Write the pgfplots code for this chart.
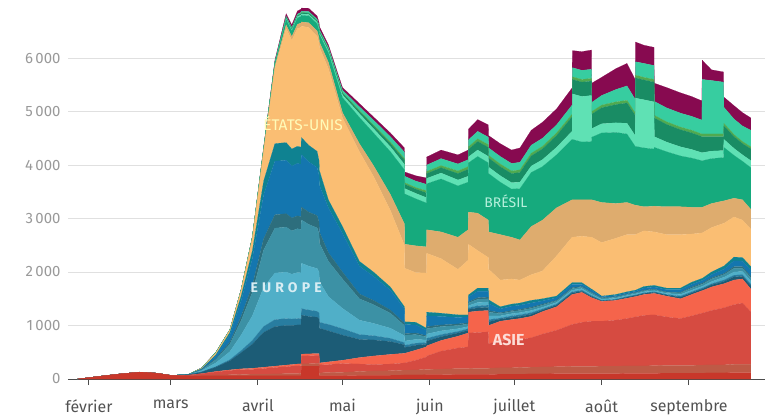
\documentclass[border=0pt]{standalone}
\usepackage{pgfplots}
\pgfplotsset{compat=1.18}
\usepackage{pgfplotstable}
\usepackage{fontspec}
\setmainfont{Fira Sans}
\newfontfamily\spaced[LetterSpace=30]{Fira Sans}

% Asie
\definecolor{cA1}{HTML}{C8372A}
\definecolor{cA2}{HTML}{BE5A46}
\definecolor{cA3}{HTML}{D64B41}
\definecolor{cA4}{HTML}{F5644B}
% Europe
\definecolor{cE1}{HTML}{1C5C76}
\definecolor{cE2}{HTML}{287DA0}
\definecolor{cE3}{HTML}{50AFC8}
\definecolor{cE4}{HTML}{3C91A5}
\definecolor{cE5}{HTML}{2D6E7D}
\definecolor{cE6}{HTML}{1476AF}
\definecolor{cE7}{HTML}{0F8291}
% Amériques
\definecolor{cUS}{HTML}{FABE73}
\definecolor{cTN}{HTML}{DEAC6E}
\definecolor{cG1}{HTML}{16AA7D}
\definecolor{cG2}{HTML}{5FE1B4}
\definecolor{cG3}{HTML}{198C64}
\definecolor{cG4}{HTML}{50AA50}
\definecolor{cG5}{HTML}{37CDA0}
\definecolor{cMG}{HTML}{870A50}

% jours depuis le 1er fevrier, deces quotidiens (moyenne 7 jours) par couche
\pgfplotstableread{
d     a1  a2  a3   a4  e1  e2  e3  e4  e5  e6   e7  us   tn  g1   g2  g3  g4 g5   mg
-4    0   0   0    0   0   0   0   0   0   0    0   0    0   0    0   0   0  0    0
2     40  0   0    0   0   0   0   0   0   0    0   0    0   0    0   0   0  0    0
10    90  0   0    0   0   0   0   0   0   0    0   0    0   0    0   0   0  0    0
18    130 0   0    0   0   0   0   0   0   0    0   0    0   0    0   0   0  0    0
24    110 0   0    0   0   0   0   0   0   0    0   0    0   0    0   0   0  0    0
29    70  0   0    0   0   0   0   0   0   0    0   0    0   0    0   0   0  0    0
35    60  0   10   0   10  0   0   0   0   0    0   0    0   0    0   0   0  0    0
40    60  10  30   0   30  5   20  15  5   10   5   10   0   5    0   0   0  0    5
45    60  15  55   10  80  10  70  60  20  50   20  30   5   10   0   0   0  0    5
50    60  20  80   10  170 20  150 140 40  130  50  40   5   5    0   0   0  0    5
54    60  25  90   15  300 40  290 270 80  290  90  100  10  10   0   0   0  0    10
58    60  30  90   20  450 70  460 440 130 500  150 220  20  15   5   0   0  0    10
62    60  30  105  25  650 110 730 700 210 820  260 550  30  30   5   0   0  5    20
66    60  35  120  25  740 130 870 840 250 1000 330 1400 50  50   10  10  0  10   30
70    60  40  130  30  740 130 870 840 250 1000 330 2130 70  100  20  15  5  20   50
72    60  40  140  30  730 120 840 810 240 970  320 2030 70  105  20  15  5  25   50
74    60  40  145  35  730 120 860 820 240 980  320 2200 80  120  25  15  5  25   60
75.3  60  45  145  35  730 120 850 810 240 980  320 2240 80  125  25  20  5  25   60
75.4  240 45  145  35  730 120 850 810 240 980  320 2080 80  125  25  20  5  25   60
78    240 45  150  35  700 120 820 780 230 940  310 2200 90  130  25  20  5  30   60
81    240 50  150  35  680 110 800 760 230 900  300 2150 100 135  30  20  5  30   60
81.7  240 50  150  35  650 110 760 720 210 870  280 2200 100 140  30  20  10 30   60
81.8  65  50  150  35  650 110 760 720 210 870  280 2300 100 140  30  20  10 30   60
85    65  55  150  50  580 120 520 660 160 840  150 2450 120 180  35  20  10 35   50
90    65  60  165  60  470 120 380 550 130 720  130 2030 100 280  50  30  10 50   50
96    70  70  140  120 340 90  270 400 90  520  90  2050 150 490  70  40  20 70   60
101   70  80  120  160 300 80  230 350 80  450  80  1790 200 610  80  50  20 90   60
107   70  85  125  180 240 60  190 280 60  370  60  1430 300 800  90  60  30 100  70
112   75  90  135  180 160 40  130 190 40  270  40  1150 400 1010 100 80  30 120  80
112.1 75  90  135  180 110 40  80  110 30  170  50  1000 450 940  100 80  30 120  80
116   75  95  180  190 90  40  70  90  30  150  50  930  500 880  100 80  30 120  100
119.8 80  100 230  190 50  30  50  60  20  100  40  1030 490 820  100 90  40 120  120
119.9 80  100 250  190 90  50  80  100 40  200  70  1100 440 860  100 90  40 120  150
125   80  105 335  200 70  40  70  80  30  160  60  1020 500 990  110 100 40 130  160
131   85  110 385  220 60  30  50  60  30  120  50  850  600 960  110 120 50 130  170
134.6 85  110 405  260 50  30  40  50  20  110  40  1020 570 890  110 130 50 130  180
134.7 85  110 665  390 50  30  40  50  20  90   40  950  600 920  110 140 50 130  200
138   85  115 670  400 60  40  60  60  30  120  60  700  700 1060 120 160 50 140  220
141.8 85  115 680  400 60  40  60  60  30  110  60  570  700 1070 120 170 50 140  230
141.9 85  115 460  340 70  40  70  70  30  130  70  570  700 1090 120 170 50 140  230
146   90  120 510  360 40  20  40  40  20  70   40  500  850 980  120 170 50 140  240
150   90  120 520  380 40  30  40  40  20  80   40  470  780 900  120 170 50 140  250
153   90  125 525  390 40  30  40  40  20  80   40  430  750 960  120 180 50 140  270
157   95  125 550  400 40  30  40  40  20  80   50  480  900 1010 120 190 50 150  280
161   95  130 615  420 30  20  30  40  20  60   40  520  950 1000 130 200 50 150  300
166   100 130 680  440 30  20  30  30  10  50   30  750  900 990  140 220 50 150  300
171.5 100 135 785  560 30  20  30  30  20  60   30  850  700 1130 150 270 50 170  320
171.6 100 135 785  560 30  20  30  30  20  60   30  850  700 1130 850 270 50 170  320
175   100 135 825  560 20  20  30  30  10  40   30  870  680 1080 850 270 50 170  350
178.4 100 135 845  440 20  20  20  30  10  40   20  970  700 1090 860 270 50 170  360
178.5 100 135 845  440 20  20  20  30  10  40   20  970  700 1170 160 270 50 170  360
182   100 140 840  370 10  10  20  20  10  20   10  1000 750 1300 170 300 50 180  340
187   100 140 860  370 10  10  20  20  10  20   20  1050 650 1330 180 340 50 230  390
191   105 140 885  380 20  10  20  20  10  20   20  1070 600 1280 200 380 50 270  420
193.9 105 140 915  380 20  10  20  20  10  20   20  1040 550 1100 200 380 50 250  370
194   105 140 915  380 20  10  20  20  10  20   20  1040 550 1100 900 380 50 250  370
197   105 140 945  390 20  10  20  20  10  40   30  1040 450 1100 900 370 50 260  340
200.6 105 145 950  400 20  10  20  20  10  40   30  1000 480 1070 880 370 50 260  340
200.7 105 145 950  400 20  10  20  20  10  40   30  1000 480 1100 200 350 50 260  340
205   110 145 905  390 20  10  20  20  10  40   30  1000 520 1030 180 330 50 260  380
210   110 145 875  370 30  20  30  30  10  50   30  1000 520 950  170 320 50 260  380
214   110 145 925  400 30  20  30  40  20  50   40  900  500 920  160 310 50 260  370
217.6 110 150 970  420 30  20  30  40  20  50   40  850  480 870  150 300 50 260  360
217.7 110 150 970  420 30  20  30  40  20  50   40  850  480 870  150 300 50 1020 360
221   115 150 1015 440 40  20  40  50  20  60   50  830  450 840  140 270 50 1000 200
225.3 115 150 1065 450 40  30  50  50  20  80   60  800  420 810  130 260 50 970  190
225.4 115 150 1065 450 40  30  50  50  20  80   60  800  420 1000 150 250 50 300  190
229   120 155 1115 460 60  30  60  70  30  110  70  750  350 800  130 220 40 290  250
232   120 155 1145 450 50  30  60  60  30  100  70  700  380 720  120 210 40 290  250
235   120 155 975  430 60  30  60  60  30  110  70  700  370 780  130 220 40 310  230
}\data

\begin{document}
\begin{tikzpicture}
\path[use as bounding box] (-68bp,-41bp) rectangle (704bp,379bp);
\begin{axis}[
  at={(0,0)}, anchor=south west,
  scale only axis,
  width=697bp, height=375bp,
  xmin=-7.45, xmax=240,
  ymin=0, ymax=7010,
  stack plots=y,
  axis x line*=bottom,
  axis y line*=left,
  y axis line style={draw=none},
  x axis line style={-, draw=black!70, line width=1pt},
  ytick={0,1000,...,6000},
  ytick style={draw=none},
  xtick={0,29,60,90,121,151,182,213},
  xticklabels={février,mars,avril,mai,juin,juillet,août,septembre},
  xtick style={draw=black!70, line width=1pt},
  tick align=outside,
  major tick length=6bp,
  ymajorgrids,
  grid style={draw=black!12, line width=0.8pt},
  /pgf/number format/assume math mode=true,
  /pgf/number format/1000 sep={\,},
  yticklabel style={font=\fontsize{15}{15}\selectfont, text=black!40, anchor=east, xshift=2bp},
  xticklabel style={font=\fontsize{16}{16}\selectfont, text=black!68, yshift=-11bp},
]
\addplot[fill=cA1, draw=cA1, line width=0.1pt] table[x=d, y=a1] {\data} \closedcycle;
\addplot[fill=cA2, draw=cA2, line width=0.1pt] table[x=d, y=a2] {\data} \closedcycle;
\addplot[fill=cA3, draw=cA3, line width=0.1pt] table[x=d, y=a3] {\data} \closedcycle;
\addplot[fill=cA4, draw=cA4, line width=0.1pt] table[x=d, y=a4] {\data} \closedcycle;
\addplot[fill=cE1, draw=cE1, line width=0.1pt] table[x=d, y=e1] {\data} \closedcycle;
\addplot[fill=cE2, draw=cE2, line width=0.1pt] table[x=d, y=e2] {\data} \closedcycle;
\addplot[fill=cE3, draw=cE3, line width=0.1pt] table[x=d, y=e3] {\data} \closedcycle;
\addplot[fill=cE4, draw=cE4, line width=0.1pt] table[x=d, y=e4] {\data} \closedcycle;
\addplot[fill=cE5, draw=cE5, line width=0.1pt] table[x=d, y=e5] {\data} \closedcycle;
\addplot[fill=cE6, draw=cE6, line width=0.1pt] table[x=d, y=e6] {\data} \closedcycle;
\addplot[fill=cE7, draw=cE7, line width=0.1pt] table[x=d, y=e7] {\data} \closedcycle;
\addplot[fill=cUS, draw=cUS, line width=0.1pt] table[x=d, y=us] {\data} \closedcycle;
\addplot[fill=cTN, draw=cTN, line width=0.1pt] table[x=d, y=tn] {\data} \closedcycle;
\addplot[fill=cG1, draw=cG1, line width=0.1pt] table[x=d, y=g1] {\data} \closedcycle;
\addplot[fill=cG2, draw=cG2, line width=0.1pt] table[x=d, y=g2] {\data} \closedcycle;
\addplot[fill=cG3, draw=cG3, line width=0.1pt] table[x=d, y=g3] {\data} \closedcycle;
\addplot[fill=cG4, draw=cG4, line width=0.1pt] table[x=d, y=g4] {\data} \closedcycle;
\addplot[fill=cG5, draw=cG5, line width=0.1pt] table[x=d, y=g5] {\data} \closedcycle;
\addplot[fill=cMG, draw=cMG, line width=0.1pt] table[x=d, y=mg] {\data} \closedcycle;

\coordinate (lUS) at (axis cs:76,4770);
\coordinate (lEU) at (axis cs:70,1700);
\coordinate (lBR) at (axis cs:148,3330);
\coordinate (lAS) at (axis cs:149,730);
\end{axis}
\node[font=\fontsize{15.5}{15.5}\selectfont, text=white!72!yellow] at (lUS) {ÉTATS-UNIS};
\node[font=\fontsize{14}{14}\selectfont\bfseries\spaced, text=white!78!cE3] at (lEU) {EUROPE};
\node[font=\fontsize{14}{14}\selectfont, text=white!55!cG2] at (lBR) {BRÉSIL};
\node[font=\fontsize{16}{16}\selectfont\bfseries, text=white!78!cA4] at (lAS) {ASIE};
\end{tikzpicture}
\end{document}
